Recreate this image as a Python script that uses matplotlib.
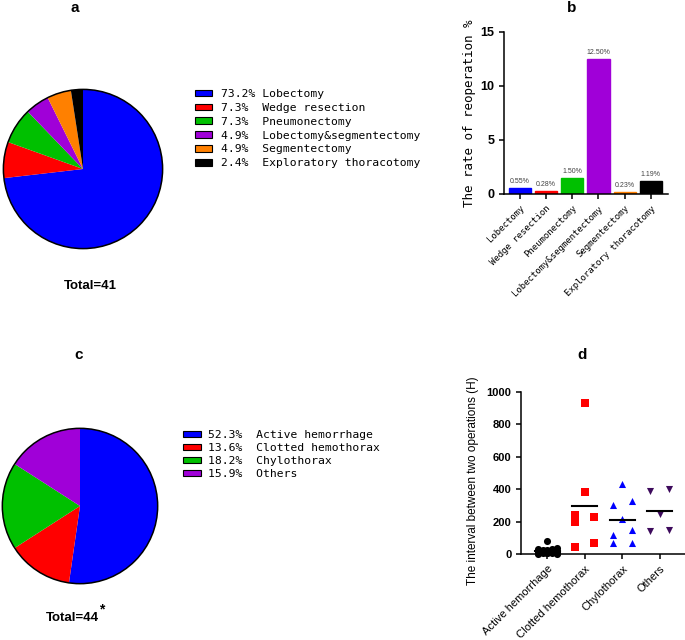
import matplotlib

matplotlib.use("Agg")

import matplotlib.pyplot as plt
import numpy as np
from matplotlib.patches import Circle, Patch

plt.rcParams["font.family"] = ["Liberation Sans", "DejaVu Sans"]
MONO = "DejaVu Sans Mono"

W, H = 685, 640

# a: procedure mix of reoperated patients
procedures = ["Lobectomy", "Wedge resection", "Pneumonectomy",
              "Lobectomy&segmentectomy", "Segmentectomy", "Exploratory thoracotomy"]
procedure_counts = [30, 3, 3, 2, 2, 1]
procedure_colors = ["#0000FF", "#FF0000", "#00C000", "#A000D8", "#FF8000", "#000000"]

# b: reoperation rate per procedure (%)
reoperation_rate = [0.55, 0.28, 1.50, 12.50, 0.23, 1.19]
rate_ticks = [0, 5, 10, 15]

# c: causes of reoperation
causes = ["Active hemorrhage", "Clotted hemothorax", "Chylothorax", "Others"]
cause_counts = [23, 6, 8, 7]
cause_colors = ["#0000FF", "#FF0000", "#00C000", "#A000D8"]

# d: interval between operations (hours)
active_hours = [80, 35, 30, 28, 25, 22, 20, 18, 16, 15, 14, 12, 12, 10, 10, 8, 8, 6, 5, 5, 4, 3, 2]
clotted_hours = [935, 385, 240, 195, 230, 45, 65]
chylo_hours = [430, 325, 305, 215, 150, 115, 65, 65]
other_hours = [400, 390, 250, 145, 148]
interval_ticks = [0, 200, 400, 600, 800, 1000]


def px_axes(fig, left, top, right, bottom):
    return fig.add_axes([left / W, 1 - bottom / H, (right - left) / W, (bottom - top) / H])


def swarm_offsets(values, half_width=0.25, gap=40):
    vals = np.asarray(values, dtype=float)
    order = np.argsort(vals, kind="stable")
    offsets = np.zeros(len(vals))
    groups, current = [], [order[0]]
    for prev, idx in zip(order[:-1], order[1:]):
        if vals[idx] - vals[prev] < gap:
            current.append(idx)
        else:
            groups.append(current)
            current = [idx]
    groups.append(current)
    for grp in groups:
        if len(grp) == 1:
            pattern = [0.0]
        elif len(grp) <= 4:
            pattern = [-1, 1]
        else:
            pattern = [-1, 1, 0, -0.5, 0.5]
        for k, idx in enumerate(grp):
            offsets[idx] = pattern[k % len(pattern)] * half_width
    return offsets


def draw_pie(ax, counts, colors):
    wedges, _ = ax.pie(counts, colors=colors, startangle=90, counterclock=False,
                       wedgeprops={"edgecolor": "none"})
    ax.add_patch(Circle((0, 0), 1, fill=False, lw=1.1, ec="black"))
    ax.set_xlim(-1.03, 1.03)
    ax.set_ylim(-1.03, 1.03)
    ax.set_aspect("equal")
    return wedges


def pct_labels(counts, names, width):
    total = sum(counts)
    return [f"{100 * c / total:.1f}%".ljust(width) + n for c, n in zip(counts, names)]


def style_axes(ax):
    for side in ("top", "right"):
        ax.spines[side].set_visible(False)
    for side in ("left", "bottom"):
        ax.spines[side].set_linewidth(1.1)
    ax.tick_params(width=1.1, length=3.5, direction="out")


fig = plt.figure(figsize=(W / 100, H / 100), dpi=100, facecolor="white")

# ---- a
ax_a = px_axes(fig, 0, 87, 166, 251)
draw_pie(ax_a, procedure_counts, procedure_colors)
handles = [Patch(facecolor=c, edgecolor="black", linewidth=0.8) for c in procedure_colors]
fig.legend(handles, pct_labels(procedure_counts, procedures, 6),
           loc="upper left", bbox_to_anchor=(195 / W, 1 - 89 / H), frameon=False,
           prop={"family": MONO, "size": 8.2}, handlelength=1.5, handleheight=0.5,
           handletextpad=0.8, labelspacing=0.34, borderpad=0, borderaxespad=0)
fig.text(75 / W, 1 - 8 / H, "a", ha="center", va="center", fontsize=11, fontweight="bold")
fig.text(90 / W, 1 - 286 / H, f"Total={sum(procedure_counts)}", ha="center", va="center",
         fontsize=9.5, fontweight="bold")

# ---- b
ax_b = px_axes(fig, 504, 32, 668, 194)
x = np.arange(len(procedures))
ax_b.bar(x, reoperation_rate, width=0.85, color=procedure_colors, edgecolor=procedure_colors)
for xi, v in zip(x, reoperation_rate):
    ax_b.text(xi, v + 0.25, f"{v:.2f}%", ha="center", va="bottom", fontsize=5, color="#444444")
ax_b.set_xlim(-0.6, 5.65)
ax_b.set_ylim(0, 15)
ax_b.set_yticks(rate_ticks)
ax_b.set_yticklabels([str(t) for t in rate_ticks], fontsize=9, fontweight="bold")
ax_b.set_xticks(x)
ax_b.set_xticklabels(procedures, rotation=45, ha="right", rotation_mode="anchor",
                     family=MONO, fontsize=6.5)
ax_b.set_ylabel("The rate of reoperation %", family=MONO, fontsize=9, va="center")
ax_b.yaxis.set_label_coords(-34 / 164, 0.5)
style_axes(ax_b)
fig.text(572 / W, 1 - 8 / H, "b", ha="center", va="center", fontsize=11, fontweight="bold")

# ---- c
ax_c = px_axes(fig, 0, 426, 160, 586)
draw_pie(ax_c, cause_counts, cause_colors)
handles = [Patch(facecolor=c, edgecolor="black", linewidth=0.8) for c in cause_colors]
fig.legend(handles, pct_labels(cause_counts, causes, 7),
           loc="upper left", bbox_to_anchor=(183 / W, 1 - 430 / H), frameon=False,
           prop={"family": MONO, "size": 8.2}, handlelength=1.6, handleheight=0.5,
           handletextpad=0.6, labelspacing=0.26, borderpad=0, borderaxespad=0)
fig.text(79 / W, 1 - 355 / H, "c", ha="center", va="center", fontsize=11, fontweight="bold")
fig.text(72 / W, 1 - 618 / H, f"Total={sum(cause_counts)}", ha="center", va="center",
         fontsize=9.5, fontweight="bold")
fig.text(102 / W, 1 - 609 / H, "*", ha="center", va="center", fontsize=10, fontweight="bold")

# ---- d
ax_d = px_axes(fig, 521, 392, 685, 554)
groups = [active_hours, clotted_hours, chylo_hours, other_hours]
markers = ["o", "s", "^", "v"]
colors = ["#000000", "#FF0000", "#0000FF", "#3D0A5C"]
for i, (vals, m, c) in enumerate(zip(groups, markers, colors)):
    ax_d.scatter(i + swarm_offsets(vals), vals, marker=m, s=26, color=c,
                 linewidths=0, clip_on=False, zorder=3)
    mean = np.mean(vals)
    ax_d.plot([i - 0.33, i + 0.33], [mean, mean], color="black", lw=1.5, zorder=4)
ax_d.set_xlim(-0.7, 3.67)
ax_d.set_ylim(0, 1000)
ax_d.set_yticks(interval_ticks)
ax_d.set_yticklabels([str(t) for t in interval_ticks], fontsize=8, fontweight="bold")
ax_d.set_xticks(range(len(causes)))
ax_d.set_xticklabels(causes, rotation=45, ha="right", rotation_mode="anchor", fontsize=8)
ax_d.set_ylabel("The interval between two operations (H)", fontsize=8.5, va="center")
ax_d.yaxis.set_label_coords(-48 / 164, 0.45)
style_axes(ax_d)
fig.text(582 / W, 1 - 355 / H, "d", ha="center", va="center", fontsize=11, fontweight="bold")

fig.savefig("out.png", dpi=100, facecolor="white")
